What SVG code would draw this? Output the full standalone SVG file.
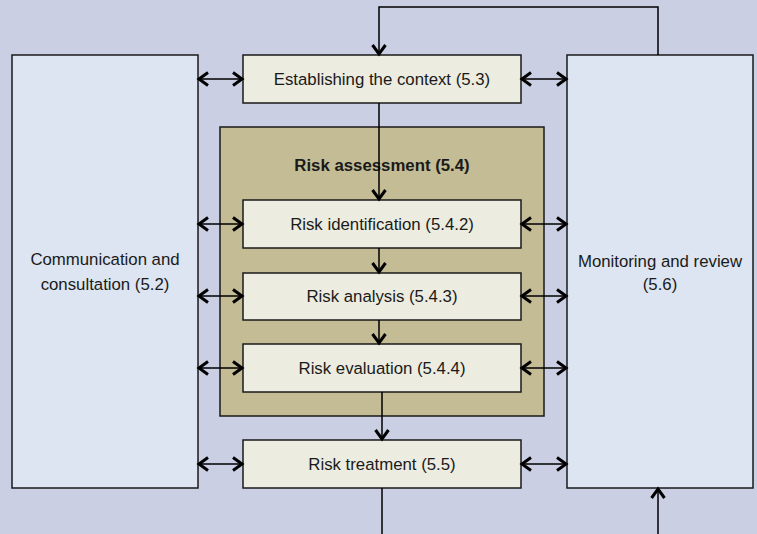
<svg xmlns="http://www.w3.org/2000/svg" width="757" height="534" viewBox="0 0 757 534">
<defs>
<marker id="ah" markerWidth="16" markerHeight="16" refX="12" refY="8" orient="auto-start-reverse" markerUnits="userSpaceOnUse">
<path d="M3,1.5 L12,8 L3,14.5" fill="none" stroke="#000" stroke-width="3"/>
</marker>
</defs>
<style>
.side{fill:#DCE5F1;stroke:#1a1a1a;stroke-width:1.5}
.step{fill:#ECECE0;stroke:#1a1a1a;stroke-width:1.5}
.grp{fill:#C4BC94;stroke:#1a1a1a;stroke-width:1.5}
text{font-family:"Liberation Sans",Arial,sans-serif;font-size:16.8px;fill:#1a1a1a;text-anchor:middle}
.b{font-weight:bold;font-size:16.8px}
.c{fill:none;stroke:#000;stroke-width:1.5}
.a{marker-end:url(#ah)}
.d{marker-start:url(#ah);marker-end:url(#ah)}
</style>
<rect width="757" height="534" fill="#CBCFE3"/>
<g id="comm"><rect class="side" x="12" y="55" width="186" height="433"/><text x="105" y="265">Communication and</text><text x="105" y="290">consultation (5.2)</text></g>
<g id="monitor"><rect class="side" x="567" y="55" width="186" height="433"/><text x="660" y="267">Monitoring and review</text><text x="660" y="290">(5.6)</text></g>
<g id="assessment"><rect class="grp" x="220" y="127" width="324" height="289"/><text class="b" x="382" y="171">Risk assessment (5.4)</text></g>
<g id="context"><rect class="step" x="243" y="55" width="278" height="48"/><text x="382" y="85">Establishing the context (5.3)</text></g>
<g id="ident"><rect class="step" x="243" y="200" width="278" height="48"/><text x="382" y="230">Risk identification (5.4.2)</text></g>
<g id="analysis"><rect class="step" x="243" y="273" width="278" height="47"/><text x="382" y="302">Risk analysis (5.4.3)</text></g>
<g id="evaluation"><rect class="step" x="243" y="344" width="278" height="48"/><text x="382" y="374">Risk evaluation (5.4.4)</text></g>
<g id="treatment"><rect class="step" x="243" y="440" width="278" height="48"/><text x="382" y="470">Risk treatment (5.5)</text></g>
<g id="connectors">
<path class="c a" d="M658,55 V7 H379 V54"/>
<path class="c a" d="M379,103 V199"/>
<path class="c a" d="M379,248 V272"/>
<path class="c a" d="M379,320 V343"/>
<path class="c a" d="M382,392 V439"/>
<path class="c" d="M382,488 V534"/>
<path class="c a" d="M658,534 V489"/>
<path class="c d" d="M199,79 H242"/>
<path class="c d" d="M199,224 H242"/>
<path class="c d" d="M199,296 H242"/>
<path class="c d" d="M199,368 H242"/>
<path class="c d" d="M199,464 H242"/>
<path class="c d" d="M522,79 H566"/>
<path class="c d" d="M522,224 H566"/>
<path class="c d" d="M522,296 H566"/>
<path class="c d" d="M522,368 H566"/>
<path class="c d" d="M522,464 H566"/>
</g>
</svg>
